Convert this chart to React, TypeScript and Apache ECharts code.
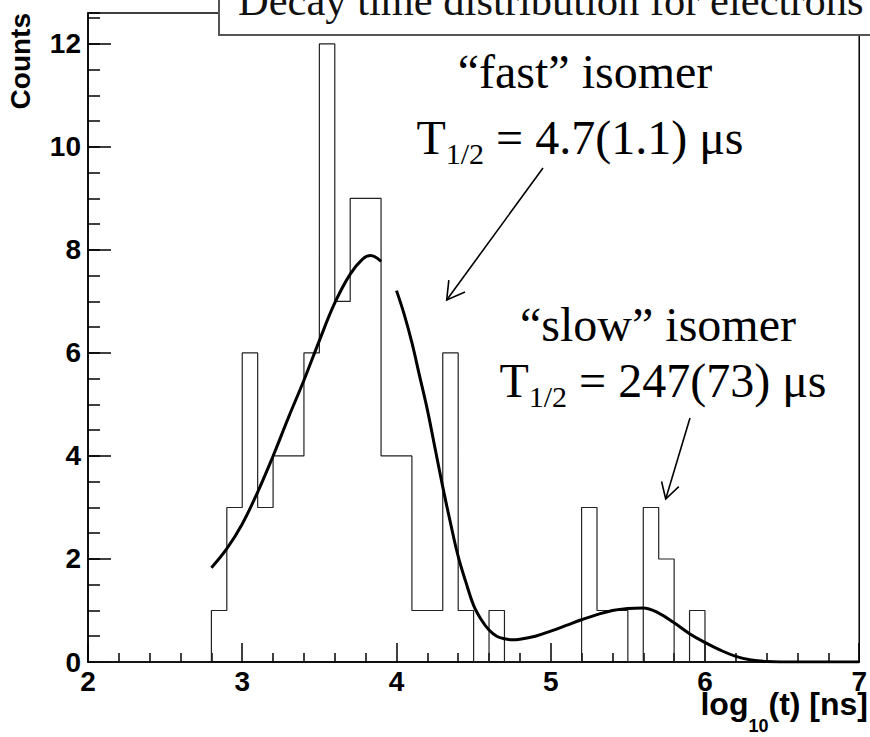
import React, { useEffect, useRef } from 'react';
import * as echarts from 'echarts';

// ---- data ----
const xMin = 2;
const xMax = 7;
const yMax = 12.6;

// histogram: bins of width 0.1 starting at 2.8 (counts per bin)
const histFirstEdge = 2.8;
const histBinWidth = 0.1;
const histCounts = [
  1, 3, 6, 3, 4, 4, 6, 12, 7, 9, 9, 4, 4, 1, 1, 6,
  1, 0, 1, 0, 0, 0, 0, 0, 3, 1, 1, 0, 3, 2, 0, 1,
];

// fit curve, first segment ("fast" component)
const fastFitX = [2.8, 2.9, 3.0, 3.1, 3.2, 3.3, 3.4, 3.5, 3.6, 3.7, 3.78, 3.83, 3.9];
const fastFitY = [1.83, 2.2, 2.68, 3.3, 4.0, 4.75, 5.47, 6.24, 6.97, 7.53, 7.82, 7.89, 7.78];

// fit curve, second segment (fast + slow)
const sumFitX = [
  4.0, 4.05, 4.1, 4.15, 4.2, 4.25, 4.3, 4.35, 4.4, 4.45, 4.5, 4.55, 4.6, 4.65, 4.7, 4.75,
  4.8, 4.9, 5.0, 5.1, 5.2, 5.3, 5.4, 5.5, 5.6, 5.7, 5.8, 5.9, 6.0, 6.1, 6.2, 6.3, 6.4, 6.6, 7.0,
];
const sumFitY = [
  7.21, 6.75, 6.2, 5.55, 4.9, 4.15, 3.4, 2.7, 2.05, 1.55, 1.1, 0.82, 0.62, 0.5, 0.45, 0.43,
  0.44, 0.5, 0.6, 0.71, 0.82, 0.92, 1.0, 1.04, 1.05, 0.95, 0.76, 0.55, 0.38, 0.23, 0.11, 0.04, 0.01, 0.0, 0.0,
];

const titleText = 'Decay time distribution for electrons';
const yTitle = 'Counts';
const fastLine1 = '\u201Cfast\u201D isomer';
const fastHalfLife = ' = 4.7(1.1) \u03BCs';
const slowLine1 = '\u201Cslow\u201D isomer';
const slowHalfLife = ' = 247(73) \u03BCs';
const xTitleParts = ['log', '10', '(t) [ns]'];

const SERIF = '"Liberation Serif", "Times New Roman", Times, serif';
const SANS = '"Liberation Sans", Arial, Helvetica, sans-serif';
const SERIF_MID = 0.3375; // baseline offset below 'middle' point, in em
const SANS_MID = 0.3465;

let measureCtx: CanvasRenderingContext2D | null = null;
function textWidth(text: string, size: number, family: string, weight = 'normal') {
  if (!measureCtx) measureCtx = document.createElement('canvas').getContext('2d');
  if (!measureCtx) return text.length * size * 0.5;
  measureCtx.font = `${weight} ${size}px ${family}`;
  return measureCtx.measureText(text).width;
}

function txt(text: string, x: number, baseline: number, size: number, family: string, mid: number,
  align: string, weight = 'normal', fill = '#000') {
  return {
    type: 'text',
    z: 100,
    style: {
      x,
      y: baseline - mid * size,
      text,
      fontSize: size,
      fontFamily: family,
      fontWeight: weight,
      fill,
      align,
      verticalAlign: 'middle',
    },
  };
}

function arrow(x1: number, y1: number, x2: number, y2: number, head: number) {
  const dx = x2 - x1;
  const dy = y2 - y1;
  const len = Math.sqrt(dx * dx + dy * dy);
  const bx = -dx / len;
  const by = -dy / len;
  const a = Math.PI / 6;
  const r1x = bx * Math.cos(a) - by * Math.sin(a);
  const r1y = bx * Math.sin(a) + by * Math.cos(a);
  const r2x = bx * Math.cos(-a) - by * Math.sin(-a);
  const r2y = bx * Math.sin(-a) + by * Math.cos(-a);
  const st = { stroke: '#000', lineWidth: 1.6, fill: 'none' };
  return [
    { type: 'line', shape: { x1, y1, x2, y2 }, style: st, z: 100 },
    {
      type: 'polyline',
      shape: { points: [[x2 + r1x * head, y2 + r1y * head], [x2, y2], [x2 + r2x * head, y2 + r2y * head]] },
      style: st,
      z: 100,
    },
  ];
}

// "T_{1/2} = ..." centred on cx
function halfLife(rest: string, cx: number, baseline: number) {
  const big = 48;
  const small = 30;
  const wT = textWidth('T', big, SERIF);
  const wS = textWidth('1/2', small, SERIF);
  const wR = textWidth(rest, big, SERIF);
  const left = cx - (wT + wS + wR) / 2;
  return [
    txt('T', left, baseline, big, SERIF, SERIF_MID, 'left'),
    txt('1/2', left + wT, baseline + 10, small, SERIF, SERIF_MID, 'left'),
    txt(rest, left + wT + wS, baseline, big, SERIF, SERIF_MID, 'left'),
  ];
}

function xTitle(right: number, baseline: number) {
  const big = 32;
  const small = 18;
  const w0 = textWidth(xTitleParts[0], big, SANS, 'bold');
  const w1 = textWidth(xTitleParts[1], small, SANS, 'bold');
  const w2 = textWidth(xTitleParts[2], big, SANS, 'bold');
  const left = right - (w0 + w1 + w2);
  return [
    txt(xTitleParts[0], left, baseline, big, SANS, SANS_MID, 'left', 'bold'),
    txt(xTitleParts[1], left + w0, baseline + 17, small, SANS, SANS_MID, 'left', 'bold'),
    txt(xTitleParts[2], left + w0 + w1, baseline, big, SANS, SANS_MID, 'left', 'bold'),
  ];
}

export default function App() {
  const ref = useRef<HTMLDivElement>(null);
  useEffect(() => {
    document.body.style.margin = '0';
    const chart = echarts.init(ref.current as HTMLDivElement, null, { renderer: 'svg' });

    const histData: number[][] = [[xMin, 0]];
    histCounts.forEach((c, i) => {
      histData.push([Math.round((histFirstEdge + i * histBinWidth) * 1000) / 1000, c]);
    });
    const lastEdge = Math.round((histFirstEdge + histCounts.length * histBinWidth) * 1000) / 1000;
    histData.push([lastEdge, 0], [xMax, 0]);

    const fastData = fastFitX.map((x, i) => [x, fastFitY[i]]);
    const sumData = sumFitX.map((x, i) => [x, sumFitY[i]]);

    const option: any = {
      animation: false,
      backgroundColor: '#fff',
      grid: {
        left: 88,
        right: 9,
        top: 13,
        bottom: 75,
        show: true,
        borderColor: '#000',
        borderWidth: 1.5,
        backgroundColor: 'transparent',
      },
      xAxis: {
        type: 'value',
        min: xMin,
        max: xMax,
        interval: 1,
        axisLine: { show: true, lineStyle: { color: '#000', width: 1.5 } },
        axisTick: { show: true, inside: true, length: 19, lineStyle: { color: '#000', width: 1.5 } },
        minorTick: { show: true, splitNumber: 5, length: 9, lineStyle: { color: '#000', width: 1.5 } },
        splitLine: { show: false },
        minorSplitLine: { show: false },
        axisLabel: {
          color: '#000',
          fontSize: 28,
          fontWeight: 'bold',
          fontFamily: SANS,
          margin: 5,
        },
      },
      yAxis: [
        {
          type: 'value',
          min: 0,
          max: yMax,
          interval: 2,
          axisLine: { show: true, lineStyle: { color: '#000', width: 1.5 } },
          axisTick: { show: true, inside: true, length: 23, lineStyle: { color: '#000', width: 1.5 } },
          splitLine: { show: false },
          axisLabel: {
            color: '#000',
            fontSize: 28,
            fontWeight: 'bold',
            fontFamily: SANS,
            margin: 7,
            showMaxLabel: false,
            formatter: (v: number) => (Math.abs(v % 2) < 1e-9 ? String(v) : ''),
          },
        },
        {
          type: 'value',
          min: 0,
          max: yMax,
          interval: 0.5,
          position: 'left',
          axisLine: { show: false },
          axisTick: { show: true, inside: true, length: 12, lineStyle: { color: '#000', width: 1.5 } },
          splitLine: { show: false },
          axisLabel: { show: false },
        },
      ],
      series: [
        {
          type: 'line',
          step: 'end',
          data: histData,
          showSymbol: false,
          symbol: 'none',
          lineStyle: { color: '#222', width: 1.2 },
          z: 2,
        },
        {
          type: 'line',
          smooth: 0.4,
          data: fastData,
          showSymbol: false,
          symbol: 'none',
          lineStyle: { color: '#000', width: 3 },
          z: 3,
        },
        {
          type: 'line',
          smooth: 0.4,
          data: sumData,
          showSymbol: false,
          symbol: 'none',
          lineStyle: { color: '#000', width: 3 },
          z: 3,
        },
      ],
      graphic: [
        // title pave
        {
          type: 'rect',
          z: 90,
          shape: { x: 219, y: -6, width: 670, height: 41 },
          style: { fill: '#fff', stroke: '#555', lineWidth: 2 },
        },
        {
          type: 'text',
          z: 91,
          style: {
            x: 238,
            y: 0,
            text: titleText,
            fontSize: 42.5,
            fontFamily: SERIF,
            fill: '#111',
            align: 'left',
            verticalAlign: 'middle',
          },
        },
        // y title
        {
          type: 'text',
          z: 50,
          x: 20,
          y: 13,
          rotation: Math.PI / 2,
          style: {
            x: 0,
            y: 0,
            text: yTitle,
            fontSize: 28,
            fontWeight: 'bold',
            fontFamily: SANS,
            fill: '#000',
            align: 'right',
            verticalAlign: 'middle',
          },
        },
        ...xTitle(868, 715),
        // fast annotation
        txt(fastLine1, 585, 88, 48, SERIF, SERIF_MID, 'center'),
        ...halfLife(fastHalfLife, 580, 154),
        // slow annotation
        txt(slowLine1, 658, 341, 48, SERIF, SERIF_MID, 'center'),
        ...halfLife(slowHalfLife, 663, 397),
        ...arrow(543, 168, 446.7, 300, 20),
        ...arrow(690, 418, 665.7, 499, 18),
      ],
    };

    chart.setOption(option);
    return () => {
      chart.dispose();
    };
  }, []);

  return (
    <div
      ref={ref}
      style={{ position: 'absolute', left: 0, top: 0, width: 870, height: 737, background: '#fff' }}
    />
  );
}
